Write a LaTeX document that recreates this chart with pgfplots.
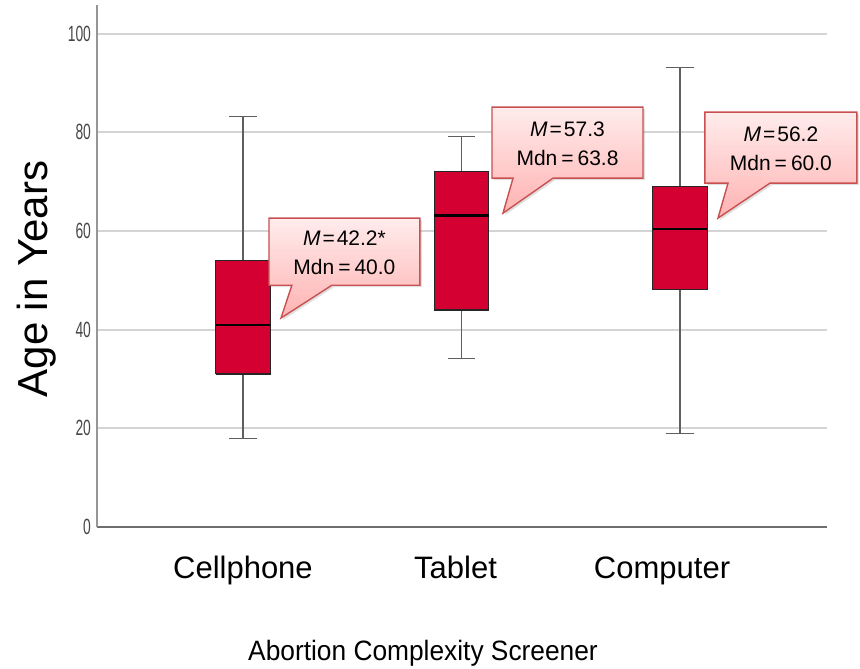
\documentclass[border=0pt]{standalone}
\usepackage{pgfplots}
\pgfplotsset{compat=1.18}
\usetikzlibrary{shadows}
\usepackage{fontspec}
\setmainfont{Liberation Sans}
\newfontfamily\labelfont[FakeStretch=0.94]{Liberation Sans}
\newfontfamily\ticknarrow[FakeStretch=0.63]{Liberation Sans}
\definecolor{boxred}{RGB}{213,0,50}
\definecolor{gridgray}{RGB}{212,212,212}
\definecolor{whiskgray}{RGB}{95,95,95}
\definecolor{calloutborder}{RGB}{200,80,80}
\definecolor{callouttop}{RGB}{255,236,236}
\definecolor{calloutbottom}{RGB}{255,178,178}
\tikzset{
  callout/.style={draw=calloutborder, line width=0.7pt, top color=callouttop, bottom color=calloutbottom,
     drop shadow={opacity=0.25, shadow xshift=1pt, shadow yshift=-1pt}},
  calltext/.style={font=\fontsize{10.5}{14.5}\selectfont, align=center, text=black},
}
\begin{document}
\begin{tikzpicture}
\begin{axis}[
  name=ax,
  scale only axis,
  width=365pt, height=261pt,
  xmin=0.332, xmax=3.673,
  ymin=0, ymax=105.8,
  axis lines*=left,
  x axis line style={draw={rgb,255:red,110;green,110;blue,110}, line width=0.8pt},
  y axis line style={draw={rgb,255:red,150;green,150;blue,150}, line width=0.6pt},
  xtick={1.0,1.973,2.918},
  xticklabels={Cellphone,Tablet,Computer},
  ytick={0,20,40,60,80,100},
  major tick length=0pt,
  ymajorgrids,
  y grid style={draw=gridgray, line width=1pt},
  /pgf/number format/assume math mode=true,
  yticklabel style={font=\ticknarrow\fontsize{11}{12}\selectfont, text={rgb,255:red,70;green,70;blue,70}, xshift=0.5pt},
  xticklabel style={font=\fontsize{15.5}{18}\selectfont, anchor=base, yshift=-25.5pt},
  xlabel={Abortion Complexity Screener},
  xlabel style={font=\labelfont\fontsize{14}{16}\selectfont, at={(axis description cs:0.4466,0)}, anchor=base, yshift=-66.5pt},
  ylabel={Age in Years},
  ylabel style={font=\fontsize{21}{24}\selectfont, at={(axis description cs:-0.082,0.475)}, anchor=center},
  clip=false,
  unbounded coords=jump,
]
% whiskers and caps
\addplot[whiskgray, line width=0.6pt] coordinates {(1,18.0) (1,31.0) (1,nan) (1,54.0) (1,83.2) (1,nan) (0.9375,18.0) (1.0625,18.0) (1,nan) (0.9375,83.2) (1.0625,83.2)};
\addplot[whiskgray, line width=0.6pt] coordinates {(2,34.1) (2,44.0) (2,nan) (2,72.0) (2,79.1) (2,nan) (1.9375,34.1) (2.0625,34.1) (2,nan) (1.9375,79.1) (2.0625,79.1)};
\addplot[whiskgray, line width=0.6pt] coordinates {(3,18.9) (3,48.1) (3,nan) (3,69.0) (3,93.1) (3,nan) (2.9375,18.9) (3.0625,18.9) (3,nan) (2.9375,93.1) (3.0625,93.1)};
% boxes (Q1 to Q3)
\addplot[fill=boxred, draw=black!85, line width=0.6pt, line join=miter] coordinates {(0.875,31.0) (1.125,31.0) (1.125,54.0) (0.875,54.0) (0.875,31.0)};
\addplot[fill=boxred, draw=black!85, line width=0.6pt, line join=miter] coordinates {(1.875,44.0) (2.125,44.0) (2.125,72.0) (1.875,72.0) (1.875,44.0)};
\addplot[fill=boxred, draw=black!85, line width=0.6pt, line join=miter] coordinates {(2.875,48.1) (3.125,48.1) (3.125,69.0) (2.875,69.0) (2.875,48.1)};
% medians
\addplot[black, line width=1.2pt] coordinates {(0.875,41.0) (1.125,41.0)};
\addplot[black, line width=1.2pt] coordinates {(1.875,63.1) (2.125,63.1)};
\addplot[black, line width=1.2pt] coordinates {(2.875,60.4) (3.125,60.4)};

\draw[callout] (axis cs:1.119,62.6) -- (axis cs:1.810,62.6) -- (axis cs:1.810,49.0) -- (axis cs:1.407,49.0) -- (axis cs:1.174,42.35) -- (axis cs:1.224,49.0) -- (axis cs:1.119,49.0) -- cycle;
\node[calltext] at (axis cs:1.4645,55.6) {\textit{M}\hspace{1pt}=\hspace{1pt}42.2*\\Mdn\hspace{2pt}=\hspace{2pt}40.0};

\draw[callout] (axis cs:2.140,85.1) -- (axis cs:2.831,85.1) -- (axis cs:2.831,70.7) -- (axis cs:2.419,70.7) -- (axis cs:2.190,63.6) -- (axis cs:2.236,70.7) -- (axis cs:2.140,70.7) -- cycle;
\node[calltext] at (axis cs:2.4855,77.7) {\textit{M}\hspace{1pt}=\hspace{1pt}57.3\\Mdn\hspace{2pt}=\hspace{2pt}63.8};

\draw[callout] (axis cs:3.114,84.1) -- (axis cs:3.810,84.1) -- (axis cs:3.810,69.7) -- (axis cs:3.412,69.7) -- (axis cs:3.174,62.6) -- (axis cs:3.220,69.7) -- (axis cs:3.114,69.7) -- cycle;
\node[calltext] at (axis cs:3.462,76.7) {\textit{M}\hspace{1pt}=\hspace{1pt}56.2\\Mdn\hspace{2pt}=\hspace{2pt}60.0};
\end{axis}
\pgfresetboundingbox
\path[use as bounding box] ([shift={(-48.5pt,-70.5pt)}]ax.south west) rectangle ([shift={(16.5pt,2.5pt)}]ax.north east);
\end{tikzpicture}
\end{document}
